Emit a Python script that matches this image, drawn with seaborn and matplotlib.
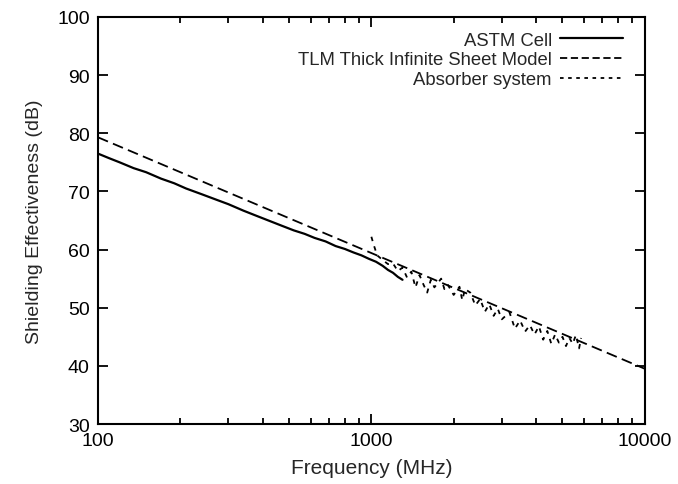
import numpy as np
import matplotlib
matplotlib.use("Agg")
import matplotlib.pyplot as plt
from matplotlib.ticker import LogLocator, FixedLocator, NullFormatter
import seaborn as sns

# ASTM cell measurement (MHz, dB)
astm_freq = [100, 110, 120, 135, 150, 170, 190, 210, 240, 270, 300, 340, 380, 420, 470,
             520, 570, 620, 680, 740, 800, 860, 920, 980, 1040, 1100, 1150, 1200, 1250, 1300]
astm_se = [76.5, 75.7, 75.0, 74.0, 73.3, 72.2, 71.4, 70.5, 69.5, 68.6, 67.8, 66.7, 65.8,
           65.0, 64.1, 63.3, 62.7, 62.0, 61.4, 60.6, 60.1, 59.5, 59.0, 58.4, 57.9, 57.2,
           56.5, 56.0, 55.3, 54.8]

# TLM thick infinite sheet model
tlm_freq = [100, 10000]
tlm_se = [79.3, 39.5]

# Absorber system measurement
abs_freq = [1000, 1020, 1050, 1100, 1150, 1200, 1250, 1300, 1350, 1400, 1450, 1500,
            1550, 1600, 1650, 1700, 1800, 1850, 1900, 2000, 2100, 2150, 2200, 2300,
            2400, 2500, 2600, 2700, 2800, 2900, 3000, 3200, 3350, 3500, 3650, 3800,
            3950, 4100, 4250, 4400, 4550, 4700, 4850, 5000, 5150, 5300, 5450, 5600,
            5750, 5850]
abs_se = [62.2, 60.8, 59.0, 58.2, 57.5, 57.6, 56.3, 56.9, 55.2, 56.2, 53.5, 55.6,
          54.0, 52.6, 54.8, 53.5, 55.0, 53.2, 54.0, 52.2, 53.6, 51.3, 53.2, 52.6,
          50.4, 51.5, 49.3, 50.6, 48.6, 49.8, 48.0, 49.2, 46.4, 47.8, 45.9, 47.0,
          45.4, 46.8, 44.5, 46.0, 43.8, 45.4, 44.0, 45.0, 43.4, 44.8, 43.8, 45.3,
          43.0, 44.8]

sns.set_theme(style="ticks")
plt.rcParams['font.family'] = ['Liberation Sans', 'DejaVu Sans']

fig = plt.figure(figsize=(6.78, 4.85), dpi=100)
ax = fig.add_axes([0.1445, 0.1237, 0.8065, 0.8393])

sns.lineplot(x=astm_freq, y=astm_se, ax=ax, color="black", linewidth=1.6,
             label="ASTM Cell")
sns.lineplot(x=tlm_freq, y=tlm_se, ax=ax, color="black", linewidth=1.3,
             label="TLM Thick Infinite Sheet Model")
sns.lineplot(x=abs_freq, y=abs_se, ax=ax, color="black", linewidth=1.3,
             label="Absorber system", sort=False)
ax.lines[1].set_dashes([6, 3])
ax.lines[2].set_dashes([2.5, 3])

ax.set_xscale("log")
ax.set_xlim(100, 10000)
ax.set_ylim(30, 100)
ax.xaxis.set_major_locator(FixedLocator([100, 1000, 10000]))
ax.xaxis.set_major_formatter(plt.FuncFormatter(lambda v, p: f"{int(v)}"))
ax.xaxis.set_minor_locator(LogLocator(base=10, subs=np.arange(2, 10)))
ax.xaxis.set_minor_formatter(NullFormatter())
ax.set_yticks(np.arange(30, 101, 10))

ax.tick_params(which="both", direction="in", top=True, right=True, labelsize=14,
               width=1.3, colors="black", pad=6)
ax.tick_params(which="major", length=7)
ax.tick_params(which="minor", length=4)
for s in ax.spines.values():
    s.set_linewidth(1.5)
    s.set_color("black")

ax.set_xlabel("Frequency (MHz)", fontsize=15, labelpad=6)
ax.set_ylabel("Shielding Effectiveness (dB)", fontsize=14, labelpad=10)

# legend: right-aligned text with sample line to its right
leg = ax.legend(loc="upper right", bbox_to_anchor=(0.987, 1.0), markerfirst=False,
                frameon=False, fontsize=13.3, handlelength=3.4, handletextpad=0.45,
                labelspacing=0.15, borderaxespad=0.4)
leg.get_lines()[1].set_dashes([4, 2])
leg.get_lines()[2].set_dashes([2, 2.5])

fig.savefig("out.png", dpi=100)
